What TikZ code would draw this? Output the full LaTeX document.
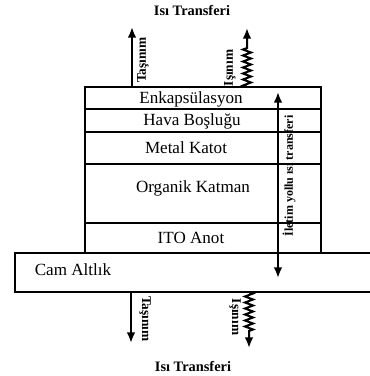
\documentclass[tikz,border=0pt]{standalone}
\usepackage{fontspec}
\setmainfont{Liberation Serif}
\usetikzlibrary{arrows.meta,decorations.pathmorphing}

\begin{document}
\begin{tikzpicture}[x=0.75pt,y=-0.75pt,
    lbl/.style={font=\fontsize{12.8}{14}\selectfont},
    side/.style={font=\bfseries\fontsize{10}{12}\selectfont},
    heat/.style={font=\bfseries\fontsize{10.8}{12}\selectfont},
    wall/.style={line width=1.1pt},
    flow/.style={line width=1.5pt,-{Latex[length=8pt,width=6.5pt]}},
    wave/.style={flow,decorate,decoration={zigzag,amplitude=3pt,segment length=4.5pt,post length=#1}}]
    \useasboundingbox (0,0) rectangle (370,376);
    % layer stack
    \draw[wall] (85,87) rectangle (321,253);
    \foreach \Y in {109,132,164,223}
    {\draw[wall] (85,\Y) -- (321,\Y);}
    \draw[wall] (371,253) -- (15,253) -- (15,292) -- (371,292);
    \node[lbl] (enk) at (191,99) {Enkapsülasyon};
    \node[lbl] (hava) at (192,121) {Hava Boşluğu};
    \node[lbl] (katot) at (186,148) {Metal Katot};
    \node[lbl] (organik) at (193,188) {Organik Katman};
    \node[lbl] (anot) at (191,238) {ITO Anot};
    \node[lbl] (cam) at (73,270) {Cam Altlık};
    % heat paths
    \coordinate (tasT) at (132,87);  \coordinate (tasTend) at (132,27);
    \coordinate (isiT) at (247,87);  \coordinate (isiTend) at (247,28);
    \coordinate (tasB) at (131,292); \coordinate (tasBend) at (131,343);
    \coordinate (isiB) at (249,292); \coordinate (isiBend) at (249,348);
    \coordinate (ilT) at (278,92);   \coordinate (ilB) at (278,278);
    \draw[flow] (tasT) -- (tasTend);
    \draw[wave=14pt] (isiT) -- (isiTend);
    \draw[flow] (tasB) -- (tasBend);
    \draw[wave=11pt] (isiB) -- (isiBend);
    \draw[flow,{Latex[length=8pt,width=6.5pt]}-{Latex[length=8pt,width=6.5pt]}] (ilB) -- (ilT);
    \node[heat] (qtop) at (192,10) {Isı Transferi};
    \node[heat] (qbot) at (193,366) {Isı Transferi};
    \node[side,rotate=90] (tas1) at (143,60) {Taşınım};
    \node[side,rotate=90] (isi1) at (230,68) {Işınım};
    \node[side,rotate=-90] (tas2) at (145,319) {Taşınım};
    \node[side,rotate=-90] (isi2) at (235,317) {Işınım};
    \node[side,rotate=90,font=\bfseries\fontsize{9}{11}\selectfont] (ilet) at (289,176) {İletim yollu ısı transferi};
\end{tikzpicture}
\end{document}
